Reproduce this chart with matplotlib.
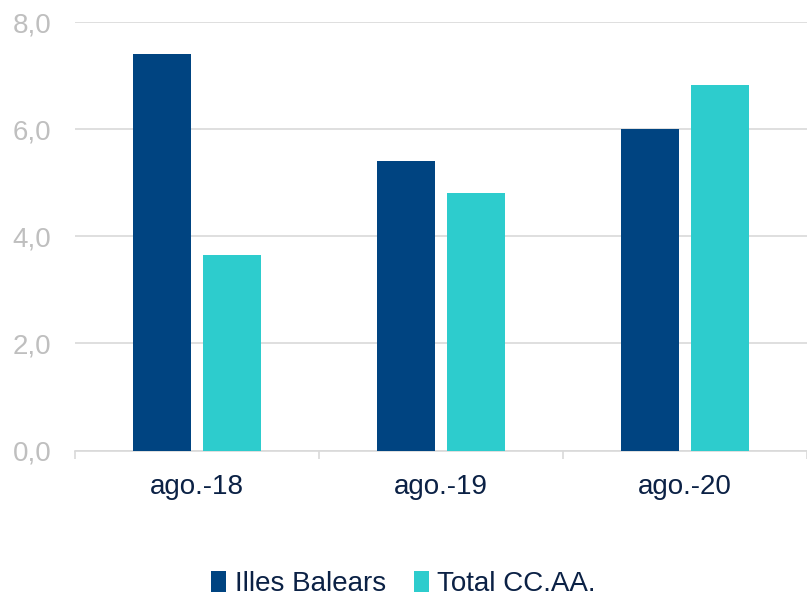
import matplotlib.pyplot as plt
import numpy as np

plt.rcParams['font.family'] = ['Liberation Sans', 'DejaVu Sans']

categories = ['ago.-18', 'ago.-19', 'ago.-20']
illes_balears = [7.4, 5.4, 6.0]
total_ccaa = [3.65, 4.8, 6.82]
series_names = ['Illes Balears', 'Total CC.AA.']

dark_blue = '#004481'
cyan = '#2DCCCD'
grid_gray = '#D9D9D9'

fig = plt.figure(figsize=(8.07, 5.96), dpi=100)
ax = fig.add_axes([0.093, 0.244, 0.907, 0.719])

x = np.arange(len(categories))
w = 0.24
ax.bar(x - 0.143, illes_balears, w, color=dark_blue, label=series_names[0], zorder=3)
ax.bar(x + 0.143, total_ccaa, w, color=cyan, label=series_names[1], zorder=3)

ax.set_xlim(-0.5, 2.5)
ax.set_ylim(0, 8)
ax.set_yticks([0, 2, 4, 6, 8])
ax.set_yticklabels(['0,0', '2,0', '4,0', '6,0', '8,0'])
ax.yaxis.grid(True, color=grid_gray, linewidth=1.2, zorder=0)
ax.set_xticks(x)
ax.set_xticklabels(categories)
ax.set_xticks([-0.5, 0.5, 1.5, 2.5], minor=True)

for s in ['top', 'right', 'left']:
    ax.spines[s].set_visible(False)
ax.spines['bottom'].set_color(grid_gray)
ax.spines['bottom'].set_linewidth(1.2)

ax.tick_params(axis='y', length=0, labelsize=20, labelcolor='#BFBFBF', pad=17)
ax.tick_params(axis='x', which='major', length=0, labelsize=20, labelcolor='#0B2145', pad=17)
ax.tick_params(axis='x', which='minor', length=6, color=grid_gray, width=1.2)

fig.legend(loc='center', bbox_to_anchor=(0.5, 0.02), ncol=2, frameon=False,
           fontsize=20, handlelength=0.55, handleheight=0.75, handletextpad=0.3,
           columnspacing=1.0, labelcolor='#0B2145')

fig.savefig('out.png', dpi=100)
